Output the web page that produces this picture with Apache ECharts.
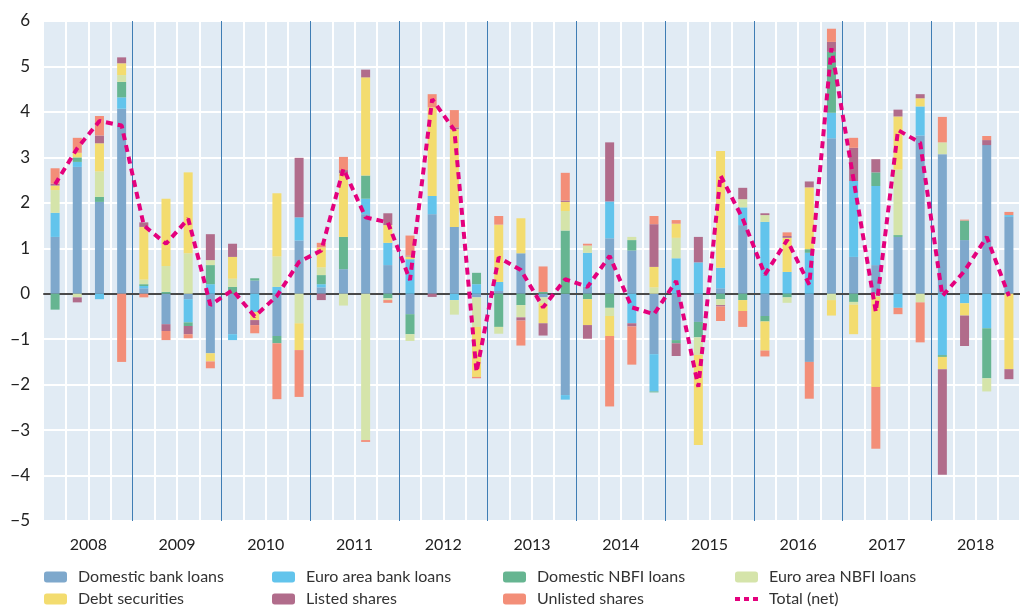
<!DOCTYPE html>
<html>
<head>
<meta charset="utf-8">
<script src="https://cdn.jsdelivr.net/npm/echarts@6/dist/echarts.min.js"></script>
<style>
  html, body { margin: 0; padding: 0; background: #fff; }
  #chart { width: 1020px; height: 607px; }
</style>
</head>
<body>
<div id="chart"></div>
<script>
const years = ['2008', '2009', '2010', '2011', '2012', '2013', '2014', '2015', '2016', '2017', '2018']
const quarters = years.flatMap((y) => [y + 'Q1', y + 'Q2', y + 'Q3', y + 'Q4'])

// quarterly contributions, 2008Q1 .. 2018Q4
const domesticBankLoans = [
  1.25, 2.79, 2.02, 4.07, 0.12, -0.67, -0.12, -1.31, -0.89, 0.29, -0.93, 1.17,
  0.14, 0.54, 1.75, 0.63, -0.45, 1.75, 1.47, -0.08, 0.06, 0.89, -0.08, -2.23,
  0.15, 1.22, 0.95, -1.33, -1.02, -0.62, 0.12, 1.51, -0.49, 0, -1.5, 3.42,
  0.81, 0.63, 1.25, 3.48, 3.07, 1.18, 3.27, 1.69
]
const euroAreaBankLoans = [
  0.53, 0.11, -0.12, 0.25, 0.05, 0, -0.51, 0.21, -0.13, -0.4, 0.15, 0.51,
  0.07, 0, 0.34, 0.49, 0.76, 0.4, -0.14, 0.21, 0.2, 0, 0, -0.1,
  0.75, 0.81, -0.65, -0.82, 0.78, 0.69, 0.45, 0.39, 1.58, 0.48, 0.9, 0.56,
  1.67, 1.74, -0.31, 0.64, -1.35, -0.21, -0.76, 0.04
]
const domesticNbfiLoans = [
  -0.35, 0.1, 0.11, 0.34, 0.04, 0.04, -0.08, 0.42, 0.15, 0.05, -0.16, 0,
  0.2, 0.71, 0.51, -0.1, -0.44, 0, 0, 0.25, -0.73, -0.25, 0.04, 1.39,
  -0.12, -0.31, 0.23, -0.02, -0.07, -0.34, -0.12, -0.14, -0.12, -0.08, 0.08, 1.34,
  -0.18, 0.3, 0.04, 0, -0.04, 0.43, -1.1, 0
]
const euroAreaNbfiLoans = [
  0.5, -0.08, 0.56, 0.15, 0.1, 0.57, 0.89, 0.11, 0.18, 0, 0.67, -0.65,
  0.17, -0.26, -3.22, -0.04, -0.15, 0, -0.32, -0.65, -0.15, -0.27, -0.13, 0.43,
  0.16, -0.18, 0.07, 0.14, 0.45, -0.39, -0.13, 0.18, 0.15, -0.12, 0, -0.14,
  -0.06, -0.07, 1.44, -0.19, 0.26, 0, -0.29, 0
]
const debtSecurities = [
  0.1, 0.1, 0.62, 0.26, 1.16, 1.48, 1.78, -0.18, 0.48, -0.18, 1.39, -0.59,
  0.44, 1.4, 2.16, 0.39, 0.06, 1.95, 2.15, -1.1, 1.26, 0.77, -0.44, 0.2,
  -0.57, -0.44, 0, 0.45, 0.31, -1.98, 2.57, -0.24, -0.64, 0.75, 1.36, -0.34,
  -0.65, -1.98, 1.17, 0.18, -0.27, -0.27, 0, -1.66
]
const listedShares = [
  0.04, -0.11, 0.17, 0.13, 0.1, -0.15, -0.18, 0.57, 0.29, -0.11, 0, 1.31,
  -0.14, 0.07, 0.17, 0.26, 0.02, -0.07, 0.04, 0, 0, -0.07, -0.27, 0.03,
  -0.3, 1.3, -0.07, 0.94, -0.28, 0.56, -0.03, 0.25, 0.04, 0.04, 0.13, 0.22,
  0.73, 0.29, 0.15, 0.09, -2.32, -0.67, 0.11, -0.22
]
const unlistedShares = [
  0.34, 0.33, 0.43, -1.5, -0.08, -0.2, -0.09, -0.15, 0, -0.18, -1.23, -1.03,
  0.1, 0.29, -0.04, -0.06, 0.44, 0.29, 0.38, -0.03, 0.19, -0.55, 0.56, 0.61,
  0.04, -1.55, -0.84, 0.18, 0.08, 0, -0.32, -0.35, -0.13, 0.08, -0.81, 0.29,
  0.22, -1.36, -0.14, -0.88, 0.56, 0.02, 0.09, 0.07
]
const totalNet = [
  2.41, 3.2, 3.8, 3.7, 1.5, 1.1, 1.65, -0.25, 0.08, -0.5, -0.05, 0.7,
  0.95, 2.75, 1.68, 1.57, 0.3, 4.28, 3.6, -1.72, 0.8, 0.52, -0.3, 0.32,
  0.15, 0.83, -0.3, -0.45, 0.28, -2.05, 2.6, 1.65, 0.42, 1.18, 0.2, 5.4,
  2.5, -0.4, 3.6, 3.32, -0.05, 0.5, 1.25, -0.05
]
const yTicks = { min: -5, max: 6, interval: 1 }

const barSeries = [
  { name: 'Domestic bank loans', color: '#7ea8cc', data: domesticBankLoans },
  { name: 'Euro area bank loans', color: '#62c4ec', data: euroAreaBankLoans },
  { name: 'Domestic NBFI loans', color: '#66b591', data: domesticNbfiLoans },
  { name: 'Euro area NBFI loans', color: '#d5e4aa', data: euroAreaNbfiLoans },
  { name: 'Debt securities', color: '#f3dc6f', data: debtSecurities },
  { name: 'Listed shares', color: '#b16c8b', data: listedShares },
  { name: 'Unlisted shares', color: '#f38e78', data: unlistedShares }
]

const font = 'Lato, "Open Sans", sans-serif'
const legendText = { color: '#333', fontSize: 16, fontFamily: font, lineHeight: 16, padding: [0, 0, 0, 6] }
// three small squares, with zero-length corners so the icon box stays 23x11
const dottedIcon = 'path://M0,0L0,0M23,11L23,11M0,3.5h5v4h-5zM9,3.5h5v4h-5zM18,3.5h5v4h-5z'

const legendCol = (left, names) => ({
  orient: 'vertical',
  left: left,
  top: 569,
  height: 60,
  padding: 0,
  itemWidth: 23,
  itemHeight: 11,
  itemGap: 6,
  textStyle: legendText,
  data: names
})

const chart = echarts.init(document.getElementById('chart'))

chart.setOption({
  animation: false,
  backgroundColor: '#fff',
  legend: [
    legendCol(44, ['Domestic bank loans', 'Debt securities']),
    legendCol(272, ['Euro area bank loans', 'Listed shares']),
    legendCol(503, ['Domestic NBFI loans', 'Unlisted shares']),
    legendCol(735, ['Euro area NBFI loans', { name: 'Total (net)', icon: dottedIcon }])
  ],
  grid: {
    left: 44,
    right: -12,
    top: 21,
    bottom: 86,
    show: true,
    backgroundColor: '#e1ebf4',
    borderWidth: 0
  },
  xAxis: [
    {
      type: 'category',
      data: quarters,
      boundaryGap: true,
      axisLine: { onZero: true, lineStyle: { color: '#4a4a4a', width: 2 } },
      axisTick: { show: false },
      axisLabel: { show: false },
      splitLine: {
        show: true,
        interval: (index) => index % 4 !== 0,
        lineStyle: { color: '#ffffff', width: 2 }
      }
    },
    {
      type: 'category',
      data: years,
      position: 'bottom',
      boundaryGap: true,
      axisLine: { show: false, onZero: false },
      axisTick: { show: false },
      axisLabel: { color: '#222', fontSize: 16, fontFamily: font, margin: 16 },
      splitLine: {
        show: true,
        interval: (index) => index !== 0,
        lineStyle: { color: '#3f7db4', width: 1 }
      }
    }
  ],
  yAxis: {
    type: 'value',
    min: yTicks.min,
    max: yTicks.max,
    interval: yTicks.interval,
    axisLine: { show: false },
    axisTick: { show: false },
    axisLabel: {
      color: '#222',
      fontSize: 17,
      fontFamily: font,
      margin: 14,
      formatter: (v) => String(v).replace('-', '\u2212')
    },
    splitLine: { lineStyle: { color: '#ffffff', width: 2 } }
  },
  series: [
    ...barSeries.map((item) => ({
      name: item.name,
      type: 'bar',
      stack: 'total',
      barWidth: 9,
      itemStyle: { color: item.color },
      data: item.data
    })),
    {
      name: 'Total (net)',
      type: 'line',
      symbol: 'none',
      z: 5,
      lineStyle: { color: '#e4007d', width: 4, type: [7, 5] },
      itemStyle: { color: '#e4007d' },
      data: totalNet
    }
  ]
})
</script>
</body>
</html>
